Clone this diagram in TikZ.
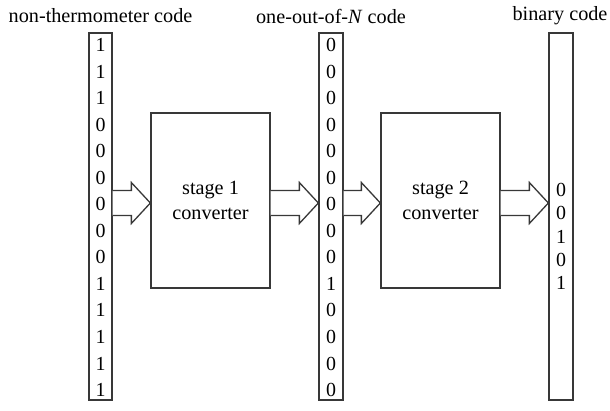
\documentclass[tikz,border=0pt]{standalone}
\usepackage{fontspec}
\setmainfont{LiberationSerif}[Extension=.ttf, UprightFont=*-Regular, ItalicFont=*-Italic, BoldFont=*-Bold, BoldItalicFont=*-BoldItalic]
\usetikzlibrary{calc}
\tikzset{
  frame/.style={draw=black!78, line width=1.3bp, fill=white, inner sep=0pt},
  bitcol/.style={frame, minimum width=23bp, minimum height=367bp},
  stagebox/.style={frame, minimum width=119bp, minimum height=175bp, align=center},
  bit/.style={inner sep=0pt, font=\fontsize{20}{22}\selectfont},
  caption/.style={inner sep=0pt, font=\fontsize{20.3}{22}\selectfont},
  blockarrow/.style={draw=black!78, line width=1.3bp, fill=white, line join=miter}
}
% block arrow from the right side of #1 to the left side of #2, at height lev
\newcommand\blockarrow[2]{%
  \draw[blockarrow]
    ($(#1.east |- lev)+(0,-12.5)$) -- ($(#2.west |- lev)+(-19,-12.5)$)
    -- ($(#2.west |- lev)+(-19,-20.5)$) -- (#2.west |- lev)
    -- ($(#2.west |- lev)+(-19,20.5)$) -- ($(#2.west |- lev)+(-19,12.5)$)
    -- ($(#1.east |- lev)+(0,12.5)$);}
\begin{document}
\begin{tikzpicture}[x=1bp,y=-1bp]
  \useasboundingbox (0,0) rectangle (610,410);
  \coordinate (lev) at (0,203);

  % code columns
  \node[bitcol] (c1) at (100.5,216.5) {};
  \node[bitcol, minimum width=24bp] (c2) at (331,216.5) {};
  \node[bitcol, minimum width=24bp] (c3) at (561,216.5) {};

  % converters
  \node[stagebox] (s1) at (210.5,200.5) {};
  \node[stagebox] (s2) at (440.5,200.5) {};
  \node[caption] (s1t) at (210.5,190) {stage 1};
  \node[caption] (s1b) at (210.5,214) {converter};
  \node[caption] (s2t) at (440.5,190) {stage 2};
  \node[caption] (s2b) at (440.5,214) {converter};

  % column titles
  \node[caption] (l1) at (100.5,16) {non-thermometer code};
  \node[caption] (l2) at (331,16) {one-out-of-\emph{N} code};
  \node[caption] (l3) at (560,16) {binary code};

  % bits
  \foreach \b [count=\i from 0] in {1,1,1,0,0,0,0,0,0,1,1,1,1,1}
    \node[bit] (c1d\i) at (100.5,{45+26.54*\i}) {\b};
  \foreach \b [count=\i from 0] in {0,0,0,0,0,0,0,0,0,1,0,0,0,0}
    \node[bit] (c2d\i) at (331,{45+26.54*\i}) {\b};
  \foreach \b [count=\i from 0] in {0,0,1,0,1}
    \node[bit] (c3d\i) at (561,{190+23.3*\i}) {\b};

  % data flow
  \blockarrow{c1}{s1}
  \blockarrow{s1}{c2}
  \blockarrow{c2}{s2}
  \blockarrow{s2}{c3}
\end{tikzpicture}
\end{document}
